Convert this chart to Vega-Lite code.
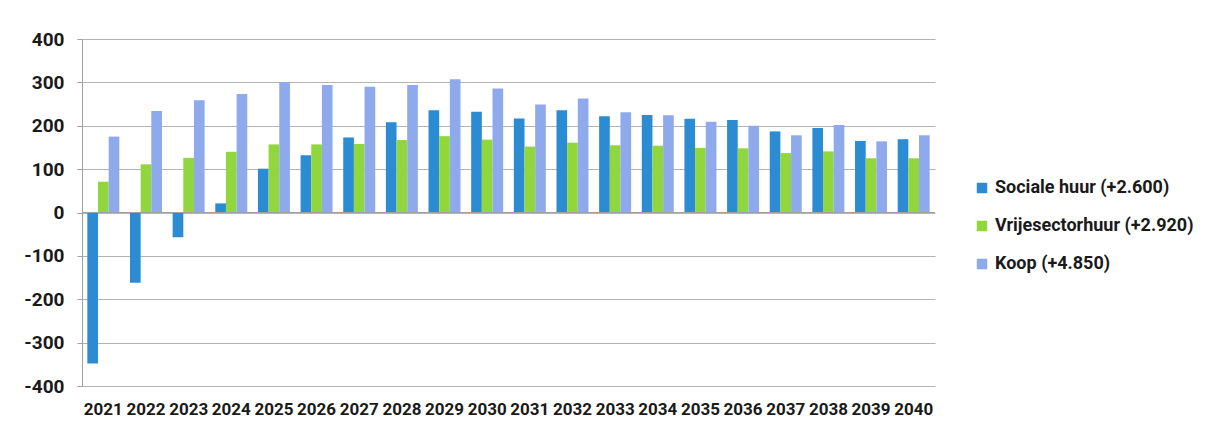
{
  "$schema": "https://vega.github.io/schema/vega-lite/v6.json",
  "autosize": "none",
  "width": 853,
  "height": 347,
  "padding": {"left": 82, "top": 39, "right": 276, "bottom": 51},
  "background": "white",
  "config": {
    "font": "Roboto, sans-serif",
    "view": {"stroke": null}
  },
  "data": {
    "values": [
      {"jaar": "2021", "type": "Sociale huur (+2.600)", "aantal": -348},
      {"jaar": "2021", "type": "Vrijesectorhuur (+2.920)", "aantal": 71},
      {"jaar": "2021", "type": "Koop (+4.850)", "aantal": 175},
      {"jaar": "2022", "type": "Sociale huur (+2.600)", "aantal": -162},
      {"jaar": "2022", "type": "Vrijesectorhuur (+2.920)", "aantal": 111},
      {"jaar": "2022", "type": "Koop (+4.850)", "aantal": 234},
      {"jaar": "2023", "type": "Sociale huur (+2.600)", "aantal": -57},
      {"jaar": "2023", "type": "Vrijesectorhuur (+2.920)", "aantal": 126},
      {"jaar": "2023", "type": "Koop (+4.850)", "aantal": 259},
      {"jaar": "2024", "type": "Sociale huur (+2.600)", "aantal": 21},
      {"jaar": "2024", "type": "Vrijesectorhuur (+2.920)", "aantal": 140},
      {"jaar": "2024", "type": "Koop (+4.850)", "aantal": 273},
      {"jaar": "2025", "type": "Sociale huur (+2.600)", "aantal": 101},
      {"jaar": "2025", "type": "Vrijesectorhuur (+2.920)", "aantal": 157},
      {"jaar": "2025", "type": "Koop (+4.850)", "aantal": 301},
      {"jaar": "2026", "type": "Sociale huur (+2.600)", "aantal": 132},
      {"jaar": "2026", "type": "Vrijesectorhuur (+2.920)", "aantal": 157},
      {"jaar": "2026", "type": "Koop (+4.850)", "aantal": 294},
      {"jaar": "2027", "type": "Sociale huur (+2.600)", "aantal": 173},
      {"jaar": "2027", "type": "Vrijesectorhuur (+2.920)", "aantal": 158},
      {"jaar": "2027", "type": "Koop (+4.850)", "aantal": 290},
      {"jaar": "2028", "type": "Sociale huur (+2.600)", "aantal": 208},
      {"jaar": "2028", "type": "Vrijesectorhuur (+2.920)", "aantal": 167},
      {"jaar": "2028", "type": "Koop (+4.850)", "aantal": 294},
      {"jaar": "2029", "type": "Sociale huur (+2.600)", "aantal": 236},
      {"jaar": "2029", "type": "Vrijesectorhuur (+2.920)", "aantal": 176},
      {"jaar": "2029", "type": "Koop (+4.850)", "aantal": 307},
      {"jaar": "2030", "type": "Sociale huur (+2.600)", "aantal": 232},
      {"jaar": "2030", "type": "Vrijesectorhuur (+2.920)", "aantal": 168},
      {"jaar": "2030", "type": "Koop (+4.850)", "aantal": 286},
      {"jaar": "2031", "type": "Sociale huur (+2.600)", "aantal": 217},
      {"jaar": "2031", "type": "Vrijesectorhuur (+2.920)", "aantal": 152},
      {"jaar": "2031", "type": "Koop (+4.850)", "aantal": 249},
      {"jaar": "2032", "type": "Sociale huur (+2.600)", "aantal": 236},
      {"jaar": "2032", "type": "Vrijesectorhuur (+2.920)", "aantal": 161},
      {"jaar": "2032", "type": "Koop (+4.850)", "aantal": 263},
      {"jaar": "2033", "type": "Sociale huur (+2.600)", "aantal": 222},
      {"jaar": "2033", "type": "Vrijesectorhuur (+2.920)", "aantal": 155},
      {"jaar": "2033", "type": "Koop (+4.850)", "aantal": 231},
      {"jaar": "2034", "type": "Sociale huur (+2.600)", "aantal": 225},
      {"jaar": "2034", "type": "Vrijesectorhuur (+2.920)", "aantal": 154},
      {"jaar": "2034", "type": "Koop (+4.850)", "aantal": 224},
      {"jaar": "2035", "type": "Sociale huur (+2.600)", "aantal": 216},
      {"jaar": "2035", "type": "Vrijesectorhuur (+2.920)", "aantal": 149},
      {"jaar": "2035", "type": "Koop (+4.850)", "aantal": 209},
      {"jaar": "2036", "type": "Sociale huur (+2.600)", "aantal": 213},
      {"jaar": "2036", "type": "Vrijesectorhuur (+2.920)", "aantal": 148},
      {"jaar": "2036", "type": "Koop (+4.850)", "aantal": 200},
      {"jaar": "2037", "type": "Sociale huur (+2.600)", "aantal": 187},
      {"jaar": "2037", "type": "Vrijesectorhuur (+2.920)", "aantal": 137},
      {"jaar": "2037", "type": "Koop (+4.850)", "aantal": 178},
      {"jaar": "2038", "type": "Sociale huur (+2.600)", "aantal": 195},
      {"jaar": "2038", "type": "Vrijesectorhuur (+2.920)", "aantal": 141},
      {"jaar": "2038", "type": "Koop (+4.850)", "aantal": 202},
      {"jaar": "2039", "type": "Sociale huur (+2.600)", "aantal": 165},
      {"jaar": "2039", "type": "Vrijesectorhuur (+2.920)", "aantal": 125},
      {"jaar": "2039", "type": "Koop (+4.850)", "aantal": 164},
      {"jaar": "2040", "type": "Sociale huur (+2.600)", "aantal": 169},
      {"jaar": "2040", "type": "Vrijesectorhuur (+2.920)", "aantal": 125},
      {"jaar": "2040", "type": "Koop (+4.850)", "aantal": 178}
    ]
  },
  "layer": [
    {
      "mark": {"type": "bar"},
      "encoding": {
        "x": {
          "field": "jaar",
          "type": "nominal",
          "scale": {"paddingInner": 0.25, "paddingOuter": 0.125},
          "axis": {
            "title": null,
            "labelAngle": 0,
            "domain": false,
            "ticks": false,
            "labelPadding": 15,
            "labelFontSize": 17,
            "labelFontWeight": "bold",
            "labelColor": "#1a1a1a",
            "labelOverlap": false,
            "labelFlush": false
          }
        },
        "xOffset": {
          "field": "type",
          "type": "nominal",
          "sort": ["Sociale huur (+2.600)", "Vrijesectorhuur (+2.920)", "Koop (+4.850)"],
          "scale": {"paddingInner": 0, "paddingOuter": 0}
        },
        "y": {
          "field": "aantal",
          "type": "quantitative",
          "scale": {"domain": [-400, 400], "nice": false},
          "axis": {
            "title": null,
            "values": [-400, -300, -200, -100, 0, 100, 200, 300, 400],
            "labelExpr": "datum.value < 0 ? '-' + abs(datum.value) : '' + datum.value",
            "grid": true,
            "gridColor": "#b4b4b4",
            "gridWidth": 1.2,
            "domainColor": "#a0a0a0",
            "tickColor": "#a0a0a0",
            "tickSize": 5,
            "labelPadding": 13,
            "labelFontSize": 19,
            "labelFontWeight": "bold",
            "labelColor": "#1a1a1a"
          }
        },
        "color": {
          "field": "type",
          "type": "nominal",
          "sort": ["Sociale huur (+2.600)", "Vrijesectorhuur (+2.920)", "Koop (+4.850)"],
          "scale": {
            "domain": ["Sociale huur (+2.600)", "Vrijesectorhuur (+2.920)", "Koop (+4.850)"],
            "range": ["#2b8bd3", "#92d63e", "#8eaaed"]
          },
          "legend": {
            "title": null,
            "orient": "none",
            "legendX": 891,
            "legendY": 140,
            "symbolType": "square",
            "symbolSize": 110,
            "symbolStrokeWidth": 0,
            "labelFontSize": 18,
            "labelFontWeight": "bold",
            "labelColor": "#1a1a1a",
            "rowPadding": 20,
            "labelOffset": 4,
            "labelLimit": 300
          }
        }
      }
    },
    {
      "mark": {"type": "rule", "color": "#a0a0a0", "strokeWidth": 1.2},
      "data": {"values": [{"nul": 0}]},
      "encoding": {"y": {"field": "nul", "type": "quantitative"}}
    }
  ]
}
